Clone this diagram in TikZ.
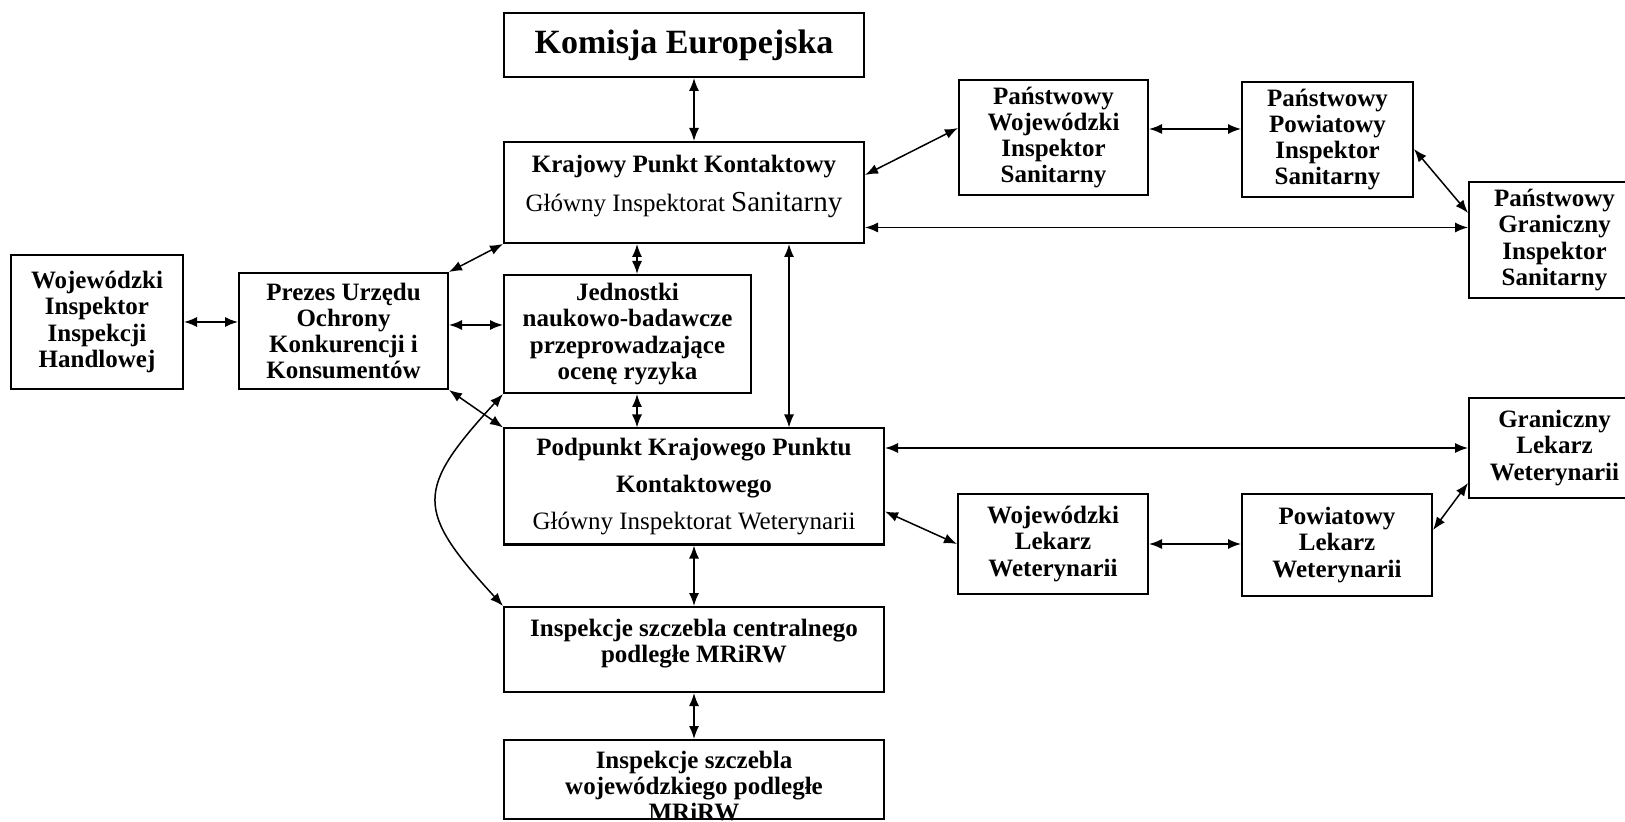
\documentclass[tikz,border=0pt]{standalone}
\usepackage{fontspec}
\setmainfont{Liberation Serif}
\usetikzlibrary{arrows.meta}

\begin{document}
\begin{tikzpicture}
    [
        x=0.5pt, y=-0.5pt,
        box/.style={draw, line width=1pt, align=center, inner sep=0pt,
            font=\fontsize{12.5}{13.1}\selectfont\bfseries},
        edge/.style={{Latex[length=6.5pt,width=5pt]}-{Latex[length=6.5pt,width=5pt]}, line width=0.75pt},
    ]
    \useasboundingbox (0,0) rectangle (1625,822);
    \clip (0,0) rectangle (1625,822);

    % central column
    \node (kom) at (684,45)      [box, minimum width=180pt, minimum height=32pt,
        font=\fontsize{17}{18}\selectfont\bfseries] {Komisja Europejska};
    \node (kpk) at (684,192.5)   [box, minimum width=180pt, minimum height=50.5pt]
        {Krajowy Punkt Kontaktowy\\[6pt]{\normalfont Główny Inspektorat {\fontsize{14.5}{16}\selectfont Sanitarny}}\\[-4pt]\mbox{}};
    \node (jedn) at (627.5,334)  [box, minimum width=123.5pt, minimum height=59pt]
        {Jednostki\\naukowo-badawcze\\przeprowadzające\\ocenę ryzyka};
    \node (podp) at (694,486.5)  [box, minimum width=190pt, minimum height=58pt]
        {Podpunkt Krajowego Punktu\\[5.5pt]Kontaktowego\\[5.5pt]{\normalfont Główny Inspektorat Weterynarii}};
    \node (isc) at (694,649.5)   [box, minimum width=190pt, minimum height=42.5pt]
        {Inspekcje szczebla centralnego\\podległe MRiRW\\[-4.5pt]\mbox{}};
    \node (isw) at (694,779.5)   [box, minimum width=190pt, minimum height=39.5pt]
        {\raisebox{-8pt}[0pt][0pt]{\begin{tabular}{@{}c@{}}Inspekcje szczebla\\wojewódzkiego podległe\\MRiRW\end{tabular}}};

    % left side
    \node (wiih) at (97,322)     [box, minimum width=86pt, minimum height=67pt]
        {Wojewódzki\\Inspektor\\Inspekcji\\Handlowej};
    \node (prezes) at (343.5,331) [box, minimum width=104.5pt, minimum height=58pt]
        {Prezes Urzędu\\Ochrony\\Konkurencji i\\Konsumentów};

    % sanitary inspection
    \node (pwis) at (1053.5,137.5) [box, minimum width=94.5pt, minimum height=57.5pt]
        {Państwowy\\Wojewódzki\\Inspektor\\Sanitarny};
    \node (ppis) at (1327.5,139.5) [box, minimum width=85.5pt, minimum height=57.5pt]
        {Państwowy\\Powiatowy\\Inspektor\\Sanitarny};
    \node (pgis) at (1554.5,240)   [box, minimum width=85.5pt, minimum height=58pt]
        {Państwowy\\Graniczny\\Inspektor\\Sanitarny};

    % veterinary inspection
    \node (glw) at (1554.5,448)  [box, minimum width=85.5pt, minimum height=50pt]
        {Graniczny\\Lekarz\\Weterynarii};
    \node (wlw) at (1053,544)    [box, minimum width=95pt, minimum height=50pt]
        {Wojewódzki\\Lekarz\\Weterynarii};
    \node (plw) at (1337,545)    [box, minimum width=95pt, minimum height=51pt]
        {Powiatowy\\Lekarz\\Weterynarii};

    \draw [edge] (kom.south -| podp) -- (kpk.north -| podp);
    \draw [edge] ([yshift=8.75pt]kpk.east) -- ([yshift=4.75pt]pwis.west);
    \draw [edge] ([yshift=4.25pt]pwis.east) -- ([yshift=4.25pt]pwis.east -| ppis.west);
    \draw [edge] ([yshift=-4.75pt]ppis.east) -- ([yshift=13.5pt]pgis.west);
    \draw [edge] ([yshift=-17.5pt]kpk.east) -- ([yshift=-17.5pt]kpk.east -| pgis.west);
    \draw [edge] (prezes.north east) -- (kpk.south west);
    \draw [edge] (wiih.east) -- (wiih.east -| prezes.west);
    \draw [edge] ([yshift=3pt]prezes.east) -- ([yshift=3pt]prezes.east -| jedn.west);
    \draw [edge] ([xshift=4.75pt]jedn.north) -- ([xshift=4.75pt]jedn.north |- kpk.south);
    \draw [edge] ([xshift=52.5pt]kpk.south) -- ([xshift=52.5pt]kpk.south |- podp.north);
    \draw [edge] (prezes.south east) -- (podp.north west);
    \draw [edge] ([xshift=4.75pt]jedn.south) -- ([xshift=4.75pt]jedn.south |- podp.north);
    \draw [edge] (jedn.south west) .. controls (415,490) and (415,510) .. (isc.north west);
    \draw [edge] (podp.east |- glw.west) -- (glw.west);
    \draw [edge] ([yshift=-12.5pt]podp.east) -- (wlw.west);
    \draw [edge] (wlw.east) -- (wlw.east -| plw.west);
    \draw [edge] ([yshift=7.5pt]plw.east) -- ([yshift=-17.5pt]glw.west);
    \draw [edge] (podp.south) -- (isc.north);
    \draw [edge] (isc.south) -- (isw.north);

\end{tikzpicture}
\end{document}
